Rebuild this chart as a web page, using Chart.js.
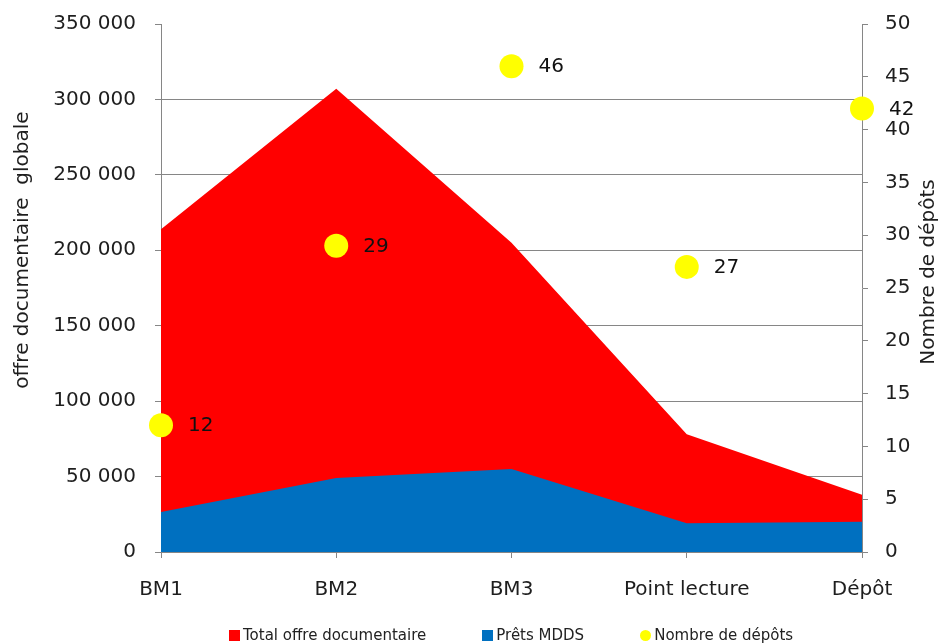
<!DOCTYPE html>
<html>
<head>
<meta charset="utf-8">
<script src="https://cdn.jsdelivr.net/npm/chart.js@4.4.0/dist/chart.umd.min.js"></script>
<style>
  html, body { margin: 0; padding: 0; background: #fff; }
  #wrap { position: relative; width: 946px; height: 643px; }
  #legend { position: absolute; left: 229px; top: 626px; display: flex; align-items: center;
            font: 15px "DejaVu Sans", sans-serif; color: #222; white-space: nowrap; }
  #legend .item { display: flex; align-items: center; margin-right: 56px; }
  #legend .box { width: 11px; height: 11px; margin-right: 3px; }
</style>
</head>
<body>
<div id="wrap">
  <canvas id="chart"></canvas>
  <div id="legend"></div>
</div>
<script>
const categories = ["BM1", "BM2", "BM3", "Point lecture", "Dépôt"];
const totalOffre = [214000, 307000, 205000, 78000, 38000];
const pretsMdds = [26500, 49000, 55000, 19000, 20000];
const nombreDepots = [12, 29, 46, 27, 42];

const RED = "#ff0000";
const BLUE = "#0070c0";
const YELLOW = "#ffff00";
const GRID = "#868686";
const TEXT = "#1e1e1e";
const FONT = "DejaVu Sans";

function spaced(v) {
    return String(v).replace(/\B(?=(\d{3})+(?!\d))/g, " ");
}

function fixWidth(w) {
    return (scale) => {
        scale.width = w;
        scale.paddingTop = 0;
        scale.paddingBottom = 0;
    };
}

// data labels next to the yellow points + the two rotated axis titles
const extras = {
    id: "extras",
    afterDatasetsDraw(chart) {
        const ctx = chart.ctx;
        const meta = chart.getDatasetMeta(2);
        ctx.save();
        ctx.font = `20px "${FONT}"`;
        ctx.fillStyle = "#111";
        ctx.textBaseline = "middle";
        ctx.textAlign = "left";
        meta.data.forEach((pt, i) => {
            ctx.fillText(String(nombreDepots[i]), pt.x + 27, pt.y + 1);
        });
        ctx.restore();
    },
    afterDraw(chart) {
        const ctx = chart.ctx;
        ctx.save();
        ctx.font = `20px "${FONT}"`;
        ctx.fillStyle = TEXT;
        ctx.textAlign = "center";
        ctx.textBaseline = "middle";
        ctx.translate(23, 250);
        ctx.rotate(-Math.PI / 2);
        ctx.fillText("offre documentaire  globale", 0, 0);
        ctx.restore();

        ctx.save();
        ctx.font = `20px "${FONT}"`;
        ctx.fillStyle = TEXT;
        ctx.textAlign = "center";
        ctx.textBaseline = "middle";
        ctx.translate(929, 272);
        ctx.rotate(-Math.PI / 2);
        ctx.fillText("Nombre de dépôts", 0, 0);
        ctx.restore();
    }
};

const chart = new Chart(document.getElementById("chart"), {
    type: "line",
    data: {
        labels: categories,
        datasets: [{
            label: "Total offre documentaire",
            data: totalOffre,
            backgroundColor: RED,
            borderColor: RED,
            borderWidth: 0,
            fill: "origin",
            pointRadius: 0,
            yAxisID: "y",
            order: 3
        }, {
            label: "Prêts MDDS",
            data: pretsMdds,
            backgroundColor: BLUE,
            borderColor: BLUE,
            borderWidth: 0,
            fill: "origin",
            pointRadius: 0,
            yAxisID: "y",
            order: 2
        }, {
            label: "Nombre de dépôts",
            data: nombreDepots,
            showLine: false,
            backgroundColor: YELLOW,
            pointBackgroundColor: YELLOW,
            pointBorderWidth: 0,
            pointRadius: 12,
            pointHoverRadius: 12,
            yAxisID: "y1",
            order: 1
        }]
    },
    options: {
        responsive: true,
        maintainAspectRatio: false,
        animation: false,
        layout: { autoPadding: false, padding: { left: 0, right: 0, top: 24, bottom: 31 } },
        elements: { line: { tension: 0 } },
        plugins: {
            legend: { display: false },
            tooltip: { enabled: false }
        },
        scales: {
            x: {
                type: "category",
                offset: false,
                grid: { drawOnChartArea: false, tickLength: 6, color: GRID },
                border: { color: GRID },
                ticks: { padding: 20, color: TEXT, font: { family: FONT, size: 20 }, maxRotation: 0, autoSkip: false },
                afterFit(scale) { scale.height = 60; scale.paddingLeft = 0; scale.paddingRight = 0; }
            },
            y: {
                position: "left",
                min: 0,
                max: 350000,
                grid: {
                    color: (c) => (c.tick && c.tick.value === 350000 ? "rgba(0,0,0,0)" : GRID),
                    tickColor: GRID,
                    tickLength: 6
                },
                border: { color: GRID },
                ticks: {
                    stepSize: 50000,
                    padding: 19,
                    color: TEXT,
                    font: { family: FONT, size: 20 },
                    callback: (v) => spaced(v)
                },
                afterFit: fixWidth(161)
            },
            y1: {
                position: "right",
                min: 0,
                max: 50,
                grid: { drawOnChartArea: false, tickLength: 6, color: GRID },
                border: { color: GRID },
                ticks: { stepSize: 5, padding: 17, color: TEXT, font: { family: FONT, size: 20 } },
                afterFit: fixWidth(84)
            }
        }
    },
    plugins: [extras]
});

// legend built from the datasets
const legend = document.getElementById("legend");
chart.data.datasets.forEach((ds, i) => {
    const item = document.createElement("div");
    item.className = "item";
    const box = document.createElement("span");
    box.className = "box";
    box.style.background = ds.backgroundColor;
    if (i === 2) box.style.borderRadius = "50%";
    const text = document.createElement("span");
    text.textContent = ds.label;
    item.appendChild(box);
    item.appendChild(text);
    legend.appendChild(item);
});
</script>
</body>
</html>
